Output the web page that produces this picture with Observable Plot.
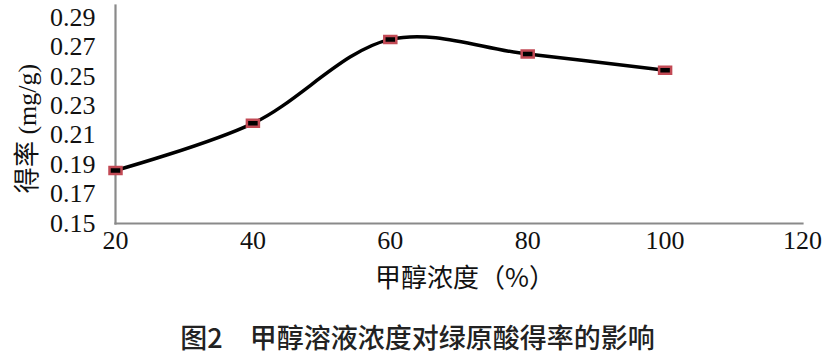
<!DOCTYPE html>
<html>
<head>
<meta charset="utf-8">
<script src="https://cdn.jsdelivr.net/npm/d3@7"></script>
<script src="https://cdn.jsdelivr.net/npm/@observablehq/plot@0.6"></script>
<style>
  body { margin: 0; background: #fff; }
  #chart svg { display: block; }
  #title { width: 835px; text-align: center; font-family: "Noto Sans CJK SC", sans-serif; font-size: 27px; font-weight: 500; color: #222; line-height: 30px; margin-top: 22px; }
</style>
</head>
<body>
<div id="chart"></div>
<div id="title">图2　甲醇溶液浓度对绿原酸得率的影响</div>
<script>
const concentration = [20, 40, 60, 80, 100];
const yieldValues = [0.186, 0.218, 0.275, 0.265, 0.254];
const xTicks = [20, 40, 60, 80, 100, 120];
const yTicks = [0.15, 0.17, 0.19, 0.21, 0.23, 0.25, 0.27, 0.29];
const xLabel = "甲醇浓度（%）";
const yLabel = "得率 (mg/g)";

const data = concentration.map((c, i) => ({x: c, y: yieldValues[i]}));

const marker = { draw(ctx) { ctx.rect(-6, -3.5, 12, 7); } };

const serif = '"Liberation Serif", "Noto Sans CJK SC", serif';

const chart = Plot.plot({
  width: 835,
  height: 300,
  marginLeft: 115,
  marginRight: 33,
  marginTop: 5,
  marginBottom: 77,
  style: { fontFamily: serif, fontSize: "26px", color: "#111", background: "#fff" },
  x: { domain: [20, 120] },
  y: { domain: [0.15, 0.298] },
  marks: [
    Plot.axisX({ ticks: xTicks, tickSize: 0, tickPadding: 7, label: null, fontSize: 26, tickFormat: d => String(d) }),
    Plot.axisY({ ticks: yTicks, tickSize: 0, tickPadding: 20, label: null, fontSize: 26, tickFormat: d3.format(".2f") }),
    Plot.frame({ anchor: "left", stroke: "#8a8a8a", strokeWidth: 2.2, strokeOpacity: 1 }),
    Plot.frame({ anchor: "bottom", stroke: "#8a8a8a", strokeWidth: 2.2, strokeOpacity: 1 }),
    Plot.line(data, { x: "x", y: "y", curve: "catmull-rom", stroke: "#000", strokeWidth: 3.5 }),
    Plot.dot(data, { x: "x", y: "y", symbol: marker, fill: "#000", stroke: "#c24a55", strokeWidth: 2.5 }),
    Plot.text([xLabel], { frameAnchor: "bottom", dx: 6, dy: 63, fontSize: 26, fontFamily: '"Noto Sans CJK SC", serif', fill: "#111" }),
    Plot.text([yLabel], { frameAnchor: "left", textAnchor: "middle", dx: -88, dy: 14, rotate: -90, fontSize: 26, fontFamily: serif, fill: "#111" })
  ]
});
document.getElementById("chart").appendChild(chart);
</script>
</body>
</html>
